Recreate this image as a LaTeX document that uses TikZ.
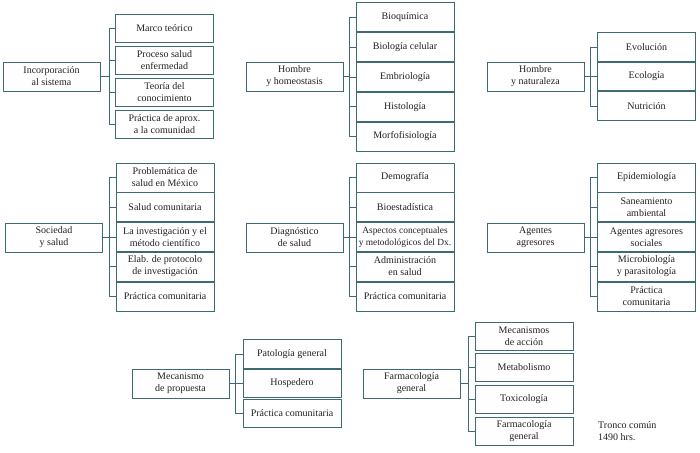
\documentclass[tikz,border=0pt]{standalone}
\usepackage{fontspec}
\setmainfont{Liberation Serif}
\usepackage{tikz}
\definecolor{boxline}{HTML}{3E6B73}
\definecolor{boxtext}{HTML}{231F20}

\begin{document}
\begin{tikzpicture}[x=1pt, y=-1pt,
  every node/.style={font=\fontsize{10}{12}\selectfont, text=boxtext},
  topic/.style={draw=boxline, line width=1pt, minimum width=97, minimum height=29, inner sep=1pt, align=center},
  subtopic/.style={topic, minimum width=98, minimum height=28},
  link/.style={draw=boxline, line width=0.8pt}]

  \useasboundingbox (0,0) rectangle (700,452);

  % Incorporacion al sistema
  \node[topic] (inc) at (51.5,76.5) {Incorporación\\al sistema};
  \node[subtopic] (inc1) at (164.5,28.5) {Marco teórico};
  \node[subtopic] (inc2) at (164.5,60.5) {Proceso salud\\enfermedad};
  \node[subtopic] (inc3) at (164.5,92) {Teoría del\\conocimiento};
  \node[subtopic] (inc4) at (164.5,124) {Práctica de aprox.\\a la comunidad};
  \coordinate (incb) at ([xshift=-6]inc1.west);
  \draw[link] (inc1.west) -- (incb) |- (inc4.west);
  \draw[link] (inc.east) -- (inc.east -| incb);
  \draw[link] (inc2.west) -- (inc2.west -| incb);
  \draw[link] (inc3.west) -- (inc3.west -| incb);

  % Hombre y homeostasis
  \node[topic] (hom) at (294.5,76.5) {Hombre\\y homeostasis};
  \node[subtopic, minimum height=29] (hom1) at (405,17.5) {Bioquímica};
  \node[subtopic, minimum height=29] (hom2) at (405,47.3) {Biología celular};
  \node[subtopic, minimum height=29] (hom3) at (405,77) {Embriología};
  \node[subtopic, minimum height=29] (hom4) at (405,106.7) {Histología};
  \node[subtopic, minimum height=29] (hom5) at (405,136.5) {Morfofisiología};
  \coordinate (homb) at ([xshift=-6]hom1.west);
  \draw[link] (hom1.west) -- (homb) |- (hom5.west);
  \draw[link] (hom.east) -- (hom.east -| homb);
  \draw[link] (hom2.west) -- (hom2.west -| homb);
  \draw[link] (hom3.west) -- (hom3.west -| homb);
  \draw[link] (hom4.west) -- (hom4.west -| homb);

  % Hombre y naturaleza
  \node[topic] (nat) at (535.5,76.5) {Hombre\\y naturaleza};
  \node[subtopic, minimum height=28.5] (nat1) at (646.5,47) {Evolución};
  \node[subtopic, minimum height=28.5] (nat2) at (646.5,76.5) {Ecología};
  \node[subtopic, minimum height=28.5] (nat3) at (646.5,106) {Nutrición};
  \coordinate (natb) at ([xshift=-7]nat1.west);
  \draw[link] (nat1.west) -- (natb) |- (nat3.west);
  \draw[link] (nat.east) -- (nat.east -| natb);
  \draw[link] (nat2.west) -- (nat2.west -| natb);

  % Sociedad y salud
  \node[topic] (soc) at (54,237.5) {Sociedad\\y salud};
  \node[subtopic, minimum height=29] (soc1) at (165,177.5) {Problemática de\\salud en México};
  \node[subtopic, minimum height=29] (soc2) at (165,207) {Salud comunitaria};
  \node[subtopic, minimum height=29] (soc3) at (165,237) {La investigación y el\\método científico};
  \node[subtopic, minimum height=29] (soc4) at (165,266.5) {Elab. de protocolo\\de investigación};
  \node[subtopic, minimum height=29] (soc5) at (165,296.5) {Práctica comunitaria};
  \coordinate (socb) at ([xshift=-6]soc1.west);
  \draw[link] (soc1.west) -- (socb) |- (soc5.west);
  \draw[link] (soc.east) -- (soc.east -| socb);
  \draw[link] (soc2.west) -- (soc2.west -| socb);
  \draw[link] (soc3.west) -- (soc3.west -| socb);
  \draw[link] (soc4.west) -- (soc4.west -| socb);

  % Diagnostico de salud
  \node[topic] (dia) at (294.5,237.5) {Diagnóstico\\de salud};
  \node[subtopic, minimum height=29] (dia1) at (405,177.5) {Demografía};
  \node[subtopic, minimum height=29] (dia2) at (405,207) {Bioestadística};
  \node[subtopic, minimum height=29, font=\fontsize{9.4}{11.5}\selectfont, inner sep=0pt] (dia3) at (405,237) {Aspectos conceptuales\\y metodológicos del Dx.};
  \node[subtopic, minimum height=29] (dia4) at (405,266.5) {Administración\\en salud};
  \node[subtopic, minimum height=29] (dia5) at (405,296.5) {Práctica comunitaria};
  \coordinate (diab) at ([xshift=-6]dia1.west);
  \draw[link] (dia1.west) -- (diab) |- (dia5.west);
  \draw[link] (dia.east) -- (dia.east -| diab);
  \draw[link] (dia2.west) -- (dia2.west -| diab);
  \draw[link] (dia3.west) -- (dia3.west -| diab);
  \draw[link] (dia4.west) -- (dia4.west -| diab);

  % Agentes agresores
  \node[topic] (age) at (535.5,237.5) {Agentes\\agresores};
  \node[subtopic, minimum height=29] (age1) at (646.5,177.5) {Epidemiología};
  \node[subtopic, minimum height=29] (age2) at (646.5,207) {Saneamiento\\ambiental};
  \node[subtopic, minimum height=29] (age3) at (646.5,237) {Agentes agresores\\sociales};
  \node[subtopic, minimum height=29] (age4) at (646.5,266.5) {Microbiología\\y parasitología};
  \node[subtopic, minimum height=29] (age5) at (646.5,296.5) {Práctica\\comunitaria};
  \coordinate (ageb) at ([xshift=-7]age1.west);
  \draw[link] (age1.west) -- (ageb) |- (age5.west);
  \draw[link] (age.east) -- (age.east -| ageb);
  \draw[link] (age2.west) -- (age2.west -| ageb);
  \draw[link] (age3.west) -- (age3.west -| ageb);
  \draw[link] (age4.west) -- (age4.west -| ageb);

  % Mecanismo de propuesta
  \node[topic] (mec) at (180.5,383.5) {Mecanismo\\de propuesta};
  \node[subtopic, minimum height=28.5] (mec1) at (292,354) {Patología general};
  \node[subtopic, minimum height=28.5] (mec2) at (292,383.5) {Hospedero};
  \node[subtopic, minimum height=28.5] (mec3) at (292,413.5) {Práctica comunitaria};
  \coordinate (mecb) at ([xshift=-7]mec1.west);
  \draw[link] (mec1.west) -- (mecb) |- (mec3.west);
  \draw[link] (mec.east) -- (mec.east -| mecb);
  \draw[link] (mec2.west) -- (mec2.west -| mecb);

  % Farmacologia general
  \node[topic] (far) at (411.5,383.5) {Farmacología\\general};
  \node[subtopic] (far1) at (524,336) {Mecanismos\\de acción};
  \node[subtopic] (far2) at (524,367.5) {Metabolismo};
  \node[subtopic] (far3) at (524,399.5) {Toxicología};
  \node[subtopic] (far4) at (524,431) {Farmacología\\general};
  \coordinate (farb) at ([xshift=-6]far1.west);
  \draw[link] (far1.west) -- (farb) |- (far4.west);
  \draw[link] (far.east) -- (far.east -| farb);
  \draw[link] (far2.west) -- (far2.west -| farb);
  \draw[link] (far3.west) -- (far3.west -| farb);

  \node[anchor=west, align=left, inner sep=0pt] (tronco) at (598,431) {Tronco común\\1490 hrs.};
\end{tikzpicture}
\end{document}
